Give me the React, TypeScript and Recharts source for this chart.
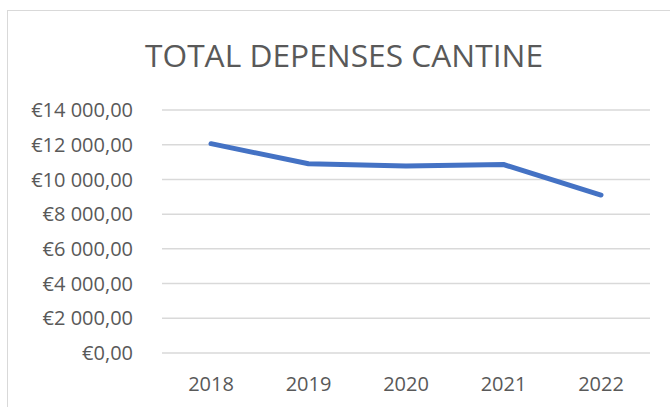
import React from 'react';
import { LineChart, Line, XAxis, YAxis, CartesianGrid } from 'recharts';

const years = ['2018', '2019', '2020', '2021', '2022'];
const totals = [12060, 10900, 10780, 10860, 9100];
const yTicks = [0, 2000, 4000, 6000, 8000, 10000, 12000, 14000];

const chartData = years.map((year, i) => ({ year, total: totals[i] }));

const FONT = '"Open Sans", Calibri, sans-serif';

// "€14 000,00" style
const formatEuro = (v: number) => {
  const s = String(Math.round(v)).replace(/\B(?=(\d{3})+(?!\d))/g, ' ');
  return `€${s},00`;
};

export default function App() {
  return (
    <div style={{ position: 'absolute', left: 0, top: 0, width: 670, height: 407, background: '#fff', overflow: 'hidden' }}>
      <div
        style={{
          position: 'absolute',
          left: 7,
          top: 10,
          width: 700,
          height: 450,
          border: '1.5px solid #d9d9d9',
          boxSizing: 'border-box',
        }}
      />
      <svg width={670} height={407} style={{ position: 'absolute', left: 0, top: 0 }}>
        <text
          x={344}
          y={66.5}
          textAnchor="middle"
          fontFamily={FONT}
          fontSize={31}
          fill="#595959"
          textLength={398}
          lengthAdjust="spacingAndGlyphs"
        >
          TOTAL DEPENSES CANTINE
        </text>
      </svg>
      <div style={{ position: 'absolute', left: 0, top: 0 }}>
        <LineChart width={670} height={407} data={chartData} margin={{ top: 110, right: 20, bottom: 14, left: 0 }}>
          <CartesianGrid vertical={false} stroke="#d9d9d9" strokeWidth={1.5} />
          <XAxis
            dataKey="year"
            axisLine={false}
            tickLine={false}
            tickSize={0}
            tickMargin={24}
            height={40}
            padding={{ left: 49, right: 49 }}
            tick={{ fill: '#595959', fontSize: 20, fontFamily: FONT }}
          />
          <YAxis
            width={162}
            domain={[0, 14000]}
            ticks={yTicks}
            axisLine={false}
            tickLine={false}
            tickSize={0}
            tickMargin={29}
            tickFormatter={formatEuro}
            tick={{ fill: '#595959', fontSize: 20, fontFamily: FONT }}
          />
          <Line
            type="linear"
            dataKey="total"
            stroke="#4472c4"
            strokeWidth={5}
            dot={false}
            strokeLinecap="round"
            strokeLinejoin="round"
            isAnimationActive={false}
          />
        </LineChart>
      </div>
    </div>
  );
}
